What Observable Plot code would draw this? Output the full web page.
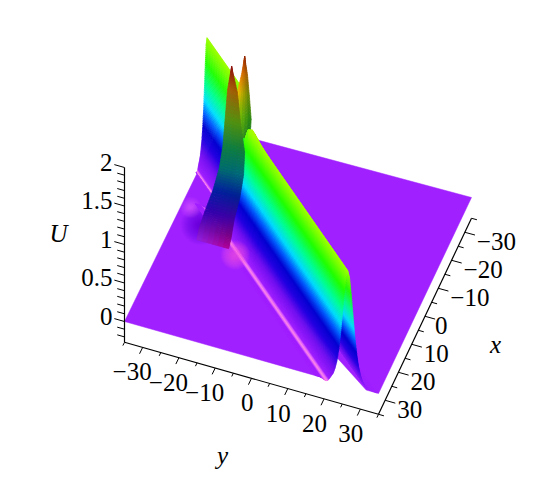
<!DOCTYPE html>
<html><head><meta charset="utf-8">
<script src="https://cdn.jsdelivr.net/npm/d3@7"></script>
<script src="https://cdn.jsdelivr.net/npm/@observablehq/plot@0.6"></script>
<style>html,body{margin:0;padding:0;background:#fff}svg{display:block}</style>
</head><body><div id="chart"></div>
<script>
// ---- values ----
const yTicks = [-30,-20,-10,0,10,20,30];
const xTicks = [-30,-20,-10,0,10,20,30];
const uTicks = [0,0.5,1,1.5,2];
const uTickLabels = ["0","0.5","1","1.5","2"];
const domainEnd = 35, floorU = -0.27;

// main soliton ridge: cross-section across the crest, crest swell and height limit along it
const ridgeOffset = [8,6,5,4.5,4,3.5,3,2.5,2,1.5,1,0.5,0,-0.5,-1,-1.5,-2,-2.5,-3,-3.5,-4,-4.5,-5,-5.5,-6,-6.5,-7,-7.6,-9];
const ridgeU =      [0,.01,.03,.06,.1,.17,.27,.42,.62,.89,1.16,1.39,1.48,1.39,1.16,.89,.62,.42,.27,.17,.1,.06,.02,-.015,-.03,-.022,-.012,0,0];
const ridgeStationX = [35,6,4,3,2,1,0,-1,-2,-3,-4,-5,-6,-7,-8,-9];
const ridgeSwell =    [1,1,1.005,1.01,1.02,1.03,1.04,1.04,1.04,1.04,1.04,1.04,1.04,1.04,1.04,1.04];
const ridgeLimit =    [2,2,2,2,2,2,1.52,1.47,1.3,1.0,.7,.52,.4,.26,.12,.02];
const ridgeSlope = 1.12, ridgeIntercept = -12.6;

// far part of the ridge beyond the interaction
const wedgeOffset = [0,-.7,-1.4,-2.1,-2.8,-3.5,-4.2,-4.9,-5.6,-6.3,-7,-7.4,-7.8,-8.3,-9];
const wedgeU =      [1.47,1.39,1.16,.89,.62,.42,.27,.17,.1,.06,.03,0,-.03,-.01,0];
const wedgeIntercept = -4.8, wedgeEndX = -12.5;

// two interaction peaks: level, left and right edge (in y) at x = 1
const peak1U = [2.315,2,1.6,1.25,.95,.65,.335,.1,-.06];
const peak1L = [-17.9,-19,-19.7,-20.3,-21.3,-23,-25.3,-26.8,-27.5];
const peak1R = [-17.9,-16.3,-15.4,-14.3,-14.6,-15.6,-17.2,-18,-18.7];
const peak2U = [2.49,2.26,2,1.7,1.3];
const peak2L = [-14.3,-15.1,-16.3,-17.5,-18];
const peak2R = [-14.3,-13.5,-13,-12.5,-13];

// soft patches on the sheet: x, y, radius
const softX = [-2.7,-7.5,3.8];
const softY = [-28,-32.5,-16];
const softR = [20,11,15];

// ---- styles ----
const colorU = [-.03,-.015,0,.15,.3,.45,.6,.75,.95,1.2,1.48,1.7,2,2.3];
const colorHex = ["#ff8ce8","#d858ff","#a020ff","#7010f0","#2000e0","#0000d0","#0060ff","#00e0ff","#00ff90","#20ff00","#a0ff00","#ffd000","#ff5000","#b01000"];
const peak1LeftColor  = ["#901010","#a86010","#559010","#108040","#007068","#0020a0","#3000b0","#7010c0","#9020e0"];
const peak1RightColor = ["#901010","#a05800","#509010","#0e7a3c","#006878","#002090","#4000a0","#7a0080","#b00090"];
const peak2LeftColor  = ["#a83000","#e07000","#ffc000","#b0e000","#60c000"];
const peak2RightColor = ["#902000","#a05a00","#608000","#208010","#006830"];
const sheetColor = "#a020ff";
const softColor = ["#5a08c0","#ff80f0","#ff60e8"];
const softAlpha = [.015,.03,.045];
const serif = "Liberation Serif";

// ---- view: the four sheet corners on the page and the height scale ----
const cA=[124,321], cB=[378,393], cC=[471,197], cD=[218,129], uPx=77;
function proj(x,y,u=0){
  const s=(y+domainEnd)/(2*domainEnd), t=(domainEnd-x)/(2*domainEnd);
  const f=k=>(1-t)*((1-s)*cA[k]+s*cB[k])+t*((1-s)*cD[k]+s*cC[k]);
  return [f(0), f(1)-uPx*u];
}
const hueOf = d3.scaleLinear().domain(colorU).range(colorHex).interpolate(d3.interpolateRgb).clamp(true);
const pw = (xs,ys)=>d3.scaleLinear().domain(xs).range(ys);

let qid=0;
function quad(rows,a0,b0,a1,b1,c){
  const q=qid++;
  rows.push({q,c,x1:a0[0],y1:a0[1],x2:b0[0],y2:b0[1]},{q,c,x1:a1[0],y1:a1[1],x2:b1[0],y2:b1[1]});
}
// fine drawing steps across each table, so that the colour runs smoothly between readings
function fine(v,n){const o=[];for(let i=0;i<v.length-1;i++)for(let j=0;j<n;j++)o.push(v[i]+(v[i+1]-v[i])*j/n);o.push(v[v.length-1]);return o;}

// main ridge
const mainRows=[];
{
  const ds=fine(ridgeOffset,10), uAt=pw(ridgeOffset,ridgeU);
  const yc=x=>ridgeSlope*x+ridgeIntercept;
  for(let i=0;i<ds.length-1;i++){
    const d0=ds[i],d1=ds[i+1];
    for(let k=0;k<ridgeStationX.length-1;k++){
      const xa=ridgeStationX[k],xb=ridgeStationX[k+1],la=ridgeLimit[k],lb=ridgeLimit[k+1],sa=ridgeSwell[k],sb=ridgeSwell[k+1];
      const ua0=Math.min(uAt(d0)*sa,la),ua1=Math.min(uAt(d1)*sa,la),ub0=Math.min(uAt(d0)*sb,lb),ub1=Math.min(uAt(d1)*sb,lb);
      quad(mainRows,proj(xa,yc(xa)+d0,ua0),proj(xa,yc(xa)+d1,ua1),
                    proj(xb,yc(xb)+d0,ub0),proj(xb,yc(xb)+d1,ub1),hueOf((ua0+ua1+ub0+ub1)/4));
    }
  }
}
// far ridge
const wedgeRows=[];
{
  const ds=fine(wedgeOffset,10), uAt=pw(wedgeOffset,wedgeU);
  const y0=(x,d)=>ridgeSlope*x+wedgeIntercept+d;
  const x0=d=>(-domainEnd-d-wedgeIntercept)/ridgeSlope;
  for(let i=ds.length-1;i>0;i--){
    const d0=ds[i],d1=ds[i-1],um=uAt((d0+d1)/2);
    quad(wedgeRows,proj(x0(d0),y0(x0(d0),d0),uAt(d0)),proj(x0(d1),y0(x0(d1),d1),uAt(d1)),
                   proj(wedgeEndX,y0(wedgeEndX,d0),uAt(d0)),proj(wedgeEndX,y0(wedgeEndX,d1),uAt(d1)),hueOf(um));
  }
}
// a peak as a stack of rows
function peakRows(U,L,R,cl,cr){
  const rows=[],n=8,m=6;
  for(let i=0;i<U.length-1;i++)for(let j=0;j<n;j++){
    const p=j/n,q2=(j+1)/n,lerp=(a,b,t)=>a+(b-a)*t;
    const ua=lerp(U[i],U[i+1],p),ub=lerp(U[i],U[i+1],q2),la=lerp(L[i],L[i+1],p),lb=lerp(L[i],L[i+1],q2),ra=lerp(R[i],R[i+1],p),rb=lerp(R[i],R[i+1],q2);
    const colL=d3.interpolateRgb(cl[i],cl[i+1])((p+q2)/2),colR=d3.interpolateRgb(cr[i],cr[i+1])((p+q2)/2);
    for(let k=0;k<m;k++){
      const a=k/m,b=(k+1)/m;
      quad(rows,proj(1,lerp(la,ra,a),ua),proj(1,lerp(la,ra,b),ua),proj(1,lerp(lb,rb,a),ub),proj(1,lerp(lb,rb,b),ub),d3.interpolateRgb(colL,colR)((a+b)/2));
    }
  }
  return rows;
}
// sheet outline with the notch under the ridge
const yc35=ridgeSlope*35+ridgeIntercept;
const sheet=[[35,-35],[35,yc35-6],[15,yc35-6-22.4+5],[35,yc35+5],[35,35],[-35,35],[-35,-35],[35,-35]].map(([x,y])=>{const p=proj(x,y);return {px:p[0],py:p[1]};});

// soft rings
function rings(idx){
  const out=[];
  for(let r=softR[idx];r>0.5;r-=0.5){const p=proj(softX[idx],softY[idx]);out.push({px:p[0],py:p[1],r});}
  return out;
}
const softMark=i=>Plot.dot(rings(i),{x:"px",y:"py",r:"r",fill:softColor[i],fillOpacity:softAlpha[i],stroke:"none"});

// axes
const seg=(a,b)=>({x1:a[0],y1:a[1],x2:b[0],y2:b[1]});
const axisLines=[
  seg(proj(35,-35,2),proj(35,-35,floorU)),
  seg(proj(35,-35,floorU),proj(35,35,floorU)),
  seg(proj(35,35,floorU),proj(-35,35,floorU))
];
const tickLines=[];
for(let v=-35;v<=35;v+=5){
  const major=v%10===0 && Math.abs(v)<=30;
  const p=proj(35,v,floorU); const dir=proj(35+(major?2.3:1.2),v,floorU);
  tickLines.push(seg(p,dir));
  const a=proj(v,35,floorU); const b=proj(v,35+(major?2.8:1.5),floorU);
  tickLines.push(seg(a,b));
}
for(let i=-2;i<=20;i++){
  const u=i/10, major=i%5===0&&i>=0;
  tickLines.push(seg(proj(35,-35,u),proj(35,-35-(major?2.8:2),u)));
}
const labelRows=[];
yTicks.forEach(v=>{const p=proj(35,v,floorU);labelRows.push({px:p[0]+(v<0?9:v===0?2:3),py:p[1]+25,t:v<0?"\u2212"+(-v):String(v),a:"end"});});
xTicks.forEach(v=>{const p=proj(v,35,floorU);labelRows.push({px:p[0]+(v===0?10:12),py:p[1]+10,t:v<0?"\u2212"+(-v):String(v),a:"start"});});
uTicks.forEach((v,i)=>{const p=proj(35,-35,v);labelRows.push({px:112,py:p[1]-5,t:uTickLabels[i],a:"end"});});
const txt=(rows,extra)=>Plot.text(rows,{x:"px",y:"py",text:"t",fontFamily:serif,fontSize:25,fill:"#000",...extra});

const areaOpts={x1:"x1",y1:"y1",x2:"x2",y2:"y2",z:"q",fill:"c",stroke:"c",strokeWidth:.7};
const chart=Plot.plot({
  width:550,height:480,marginTop:0,marginRight:0,marginBottom:0,marginLeft:0,
  x:{domain:[0,550],axis:null},y:{domain:[480,0],axis:null},
  color:{type:"identity"},r:{type:"identity"},
  style:{background:"#fff"},
  marks:[
    Plot.line(sheet,{x:"px",y:"py",fill:sheetColor,stroke:sheetColor,strokeWidth:.5}),
    softMark(0),softMark(1),
    Plot.area(wedgeRows,areaOpts),
    Plot.area(peakRows(peak2U,peak2L,peak2R,peak2LeftColor,peak2RightColor),areaOpts),
    Plot.area(mainRows,areaOpts),
    softMark(2),
    Plot.area(peakRows(peak1U,peak1L,peak1R,peak1LeftColor,peak1RightColor),areaOpts),
    Plot.link(axisLines,{x1:"x1",y1:"y1",x2:"x2",y2:"y2",stroke:"#000",strokeWidth:1.2}),
    Plot.link(tickLines,{x1:"x1",y1:"y1",x2:"x2",y2:"y2",stroke:"#000",strokeWidth:1}),
    txt(labelRows.filter(d=>d.a==="end"),{textAnchor:"end"}),
    txt(labelRows.filter(d=>d.a==="start"),{textAnchor:"start"}),
    txt([{px:58,py:233,t:"U"},{px:495,py:344,t:"x"},{px:222,py:455,t:"y"}],{fontStyle:"italic"})
  ]
});
document.getElementById("chart").append(chart);
</script></body></html>
